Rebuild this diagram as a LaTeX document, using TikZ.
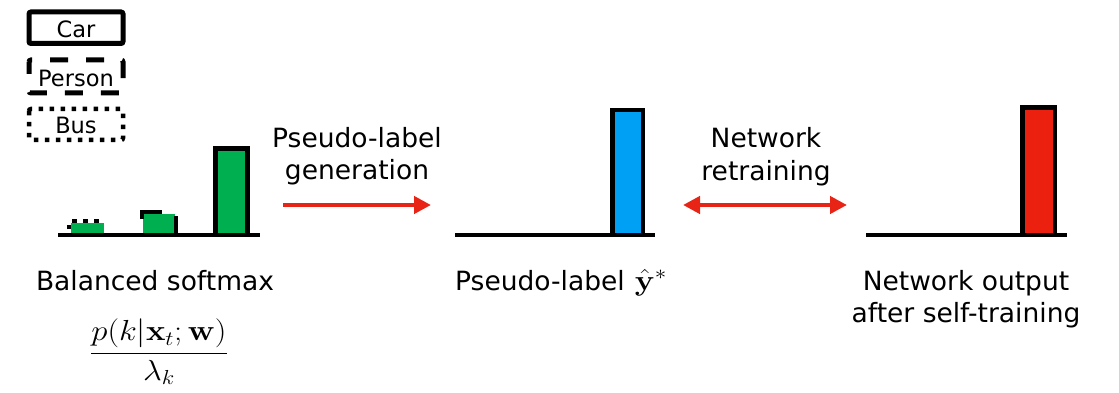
\documentclass[tikz,border=0pt]{standalone}
\usepackage{fix-cm}
\usepackage{amsmath}
\usepackage[no-math]{fontspec}
\setmainfont{DejaVu Sans}
\usetikzlibrary{arrows.meta}
\definecolor{bargreen}{RGB}{0,176,80}
\definecolor{barblue}{RGB}{0,160,245}
\definecolor{barred}{RGB}{236,32,14}
\definecolor{arrred}{RGB}{232,36,22}
\tikzset{
  legbox/.style={draw=black, line width=5pt, rounded corners=2pt},
  axisline/.style={line width=4.5pt},
  barbox/.style={draw=black, line width=4.5pt},
  lbl/.style={font=\fontsize{26.5}{31}\selectfont, anchor=base, inner sep=0pt},
  leglbl/.style={font=\fontsize{22.5}{26}\selectfont, inner sep=0pt},
  redarrow/.style={draw=arrred, line width=4.5pt, -{Triangle[length=17pt,width=17pt]}},
  redbiarrow/.style={draw=arrred, line width=4.5pt, {Triangle[length=17pt,width=17pt]}-{Triangle[length=17pt,width=17pt]}},
}
\begin{document}
\begin{tikzpicture}[x=1pt,y=-1pt]
\useasboundingbox (0,0) rectangle (1119,393);
% legend
\draw[legbox] (29,12) rectangle (123,43.5);
\node[leglbl] (car) at (76,29) {Car};
\draw[legbox, dash pattern=on 18pt off 18pt, dash phase=6pt] (29,60) rectangle (123,93);
\node[leglbl] (person) at (76,78) {Person};
\draw[legbox, line width=4.5pt, dash pattern=on 4.5pt off 6.5pt] (29,109) rectangle (123,140);
\node[leglbl] (bus) at (76,125) {Bus};
% left chart
\fill[bargreen] (71,223) rectangle (104,235);
\draw[line width=4.5pt, dash pattern=on 4.5pt off 6.5pt] (69,229) -- (69,221) -- (104,221);
\fill[bargreen] (143,214) rectangle (175,235);
\draw[line width=4.5pt] (142,219) -- (142,212) -- (162,212);
\draw[line width=4.5pt] (176,216) -- (176,235);
\draw[barbox, fill=bargreen] (215.5,148.5) rectangle (247.5,235);
\draw[axisline] (58,235) -- (260,235);
% middle chart
\draw[barbox, fill=barblue] (612.5,110) rectangle (643,235);
\draw[axisline] (455,235) -- (655,235);
% right chart
\draw[barbox, fill=barred] (1022.5,107.5) rectangle (1055,235);
\draw[axisline] (866,235) -- (1067,235);
% arrows
\coordinate (a1s) at (283,205);
\coordinate (a1e) at (431,205);
\draw[redarrow] (a1s) -- (a1e);
\coordinate (a2s) at (683,205);
\coordinate (a2e) at (847,205);
\draw[redbiarrow] (a2s) -- (a2e);
% labels
\node[lbl] (pl1) at (357,147) {Pseudo-label};
\node[lbl] (pl2) at (357,179) {generation};
\node[lbl] (nr1) at (766,147) {Network};
\node[lbl] (nr2) at (766,180) {retraining};
\node[lbl] (bs) at (155,290) {Balanced softmax};
\node[inner sep=0pt] (frac) at (159,352) {\fontsize{29}{34}\selectfont\scalebox{1.13}[1]{$\displaystyle\frac{p(k|\mathbf{x}_t;\mathbf{w})}{\lambda_k}$}};
\node[lbl] (pl) at (561,290) {Pseudo-label\hspace{10pt}{\fontsize{29}{34}\selectfont\scalebox{1.13}[1]{$\hat{\mathbf{y}}^{*}$}}};
\node[lbl] (no1) at (966,290) {Network output};
\node[lbl] (no2) at (966,322) {after self-training};
\end{tikzpicture}
\end{document}
